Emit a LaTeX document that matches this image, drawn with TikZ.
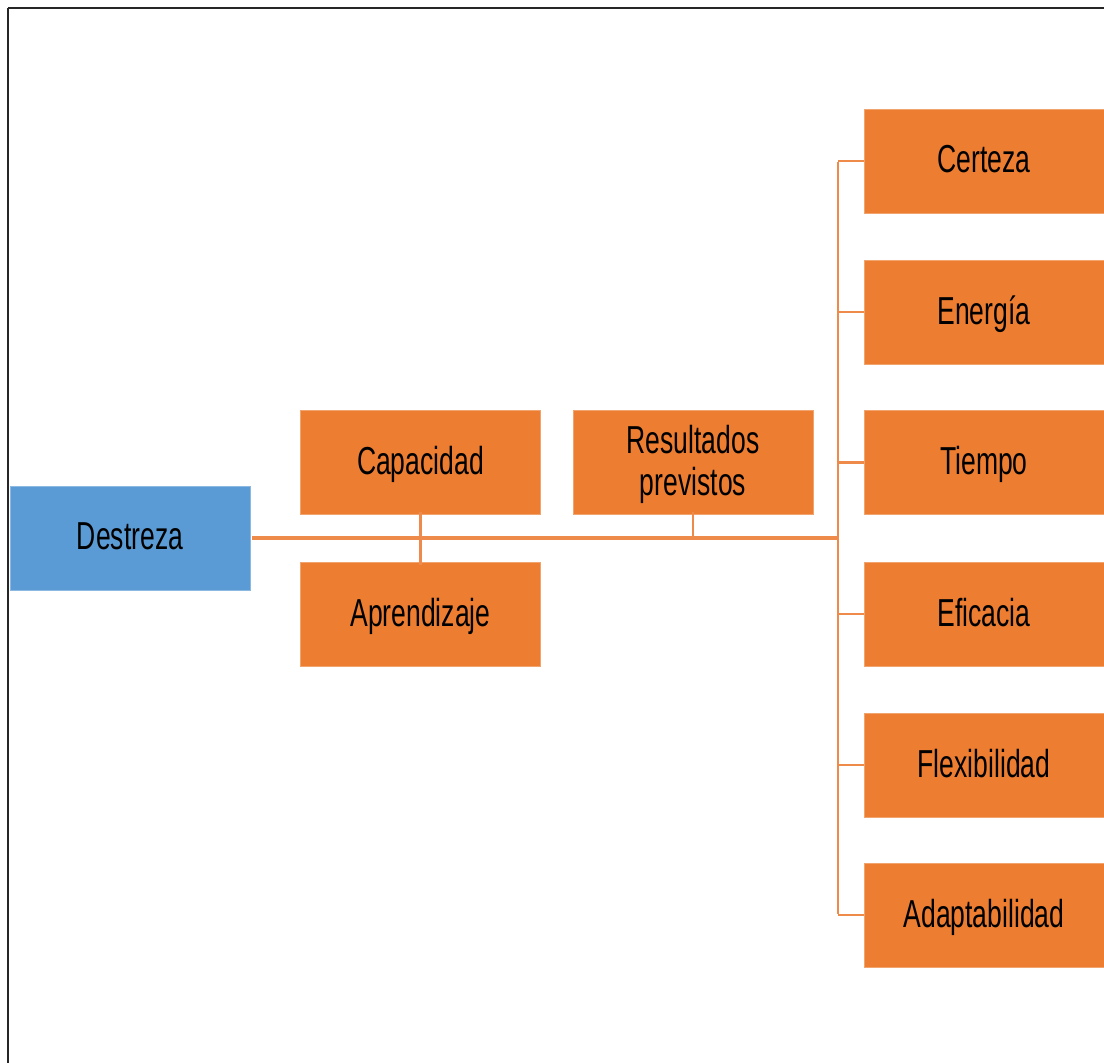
\documentclass[tikz,border=0pt]{standalone}
\usepackage{fontspec}
\setmainfont{Liberation Sans}[FakeStretch=0.68]
\definecolor{obox}{HTML}{ED7D31}
\definecolor{bbox}{HTML}{5B9BD5}
\definecolor{oline}{HTML}{EE8A4A}
\begin{document}
\begin{tikzpicture}[x=1pt,y=-1pt,
  box/.style={draw=obox!70!white, line width=0.8pt, fill=obox, minimum width=240pt, minimum height=104pt, inner sep=0pt, align=center, font=\fontsize{39}{42}\selectfont, text=black, text depth=4pt},
  bluebox/.style={box, fill=bbox, draw=bbox!70!white},
  conn/.style={draw=oline, line width=3.2pt},
  tick/.style={draw=oline, line width=2.2pt}]
\useasboundingbox (0,0) rectangle (1104,1063);
\fill[white] (0,0) rectangle (1104,1063);
\draw[line width=2.2pt, black!85] (8,8) -- (1120,8);
\draw[line width=2.2pt, black!85] (8,8) -- (8,1080);

\node[bluebox] (des) at (130,538.5) {Destreza};
\node[box] (cap) at (420.5,462.5) {Capacidad};
\node[box] (apr) at (420.5,614) {Aprendizaje};
\node[box] (res) at (693,462.5) {Resultados\\previstos};
\node[box] (cer) at (984,161) {Certeza};
\node[box] (ene) at (984,312) {Energía};
\node[box] (tie) at (984,462.5) {Tiempo};
\node[box] (efi) at (984,614) {Eficacia};
\node[box] (fle) at (984,765) {Flexibilidad};
\node[box] (ada) at (984,915) {Adaptabilidad};

\coordinate (j) at (838,538);
\coordinate (jt) at (838,161);
\coordinate (jb) at (838,915);
\coordinate (rest) at (693,538);

\draw[conn] ([xshift=2pt]des.east |- j) -- (j);
\draw[tick] ([yshift=-1pt]jt) -- ([yshift=1pt]jb);
\draw[tick] ([yshift=3pt]cap.south) -- ([yshift=-3pt]apr.north);
\draw[tick] ([yshift=3pt]res.south) -- (rest);
\draw[tick] (jt) -- (cer.west);
\draw[tick] (838,312) -- (ene.west);
\draw[tick] (838,462.5) -- (tie.west);
\draw[tick] (838,614) -- (efi.west);
\draw[tick] (838,765) -- (fle.west);
\draw[tick] (jb) -- (ada.west);
\end{tikzpicture}
\end{document}
